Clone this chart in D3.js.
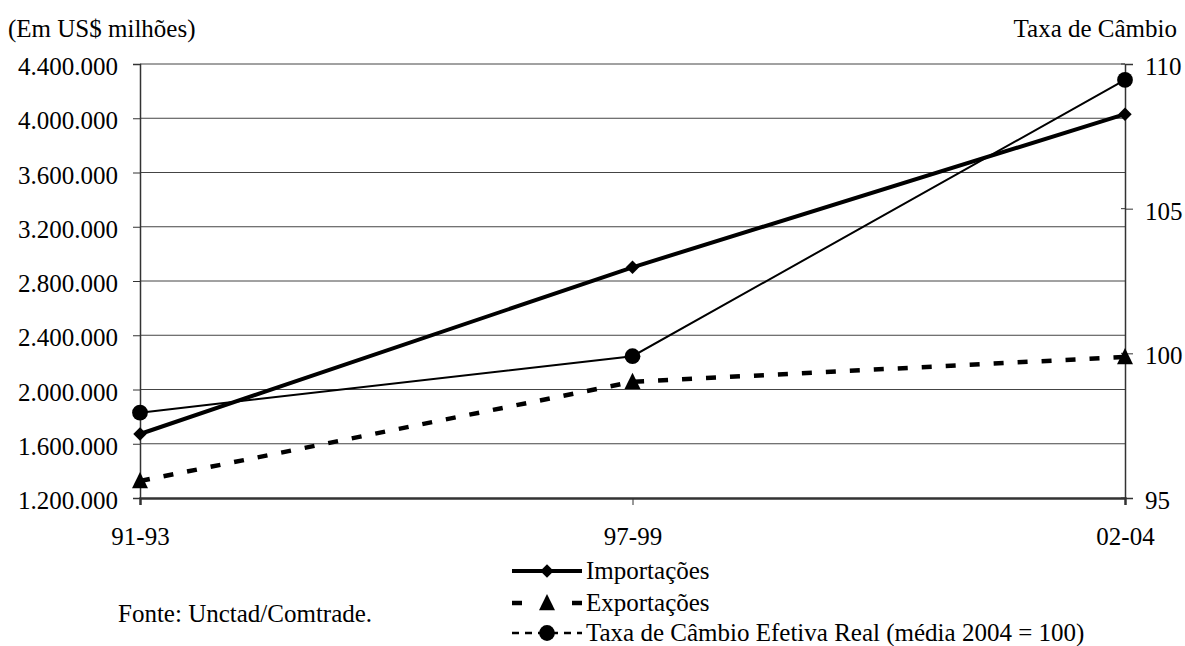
<!DOCTYPE html>
<html><head><meta charset="utf-8">
<script src="https://cdn.jsdelivr.net/npm/d3@7"></script>
<style>body{margin:0;background:#fff}svg{display:block}text{font-family:"Liberation Serif","Times New Roman",serif;fill:#000}</style>
</head><body><svg id="c" width="1185" height="646"></svg>
<script>
const categories = ["91-93", "97-99", "02-04"];
const importacoes = [1672000, 2901000, 4030000];
const exportacoes = [1325000, 2057000, 2240000];
const taxaCambio = [97.95, 99.9, 109.45];
const leftTicks = [1200000, 1600000, 2000000, 2400000, 2800000, 3200000, 3600000, 4000000, 4400000];
const rightTicks = [95, 100, 105, 110];
const legendLabels = ["Importações", "Exportações", "Taxa de Câmbio Efetiva Real (média 2004 = 100)"];

(function () {
const svg = d3.select("#c");
const FS = 25;
const pLeft = 140, pRight = 1125, pTop = 64, pBottom = 498;
const x = d3.scalePoint().domain(categories).range([pLeft, pRight]);
const yL = d3.scaleLinear().domain([1200000, 4400000]).range([pBottom, pTop]);
const yR = d3.scaleLinear().domain([95, 110]).range([pBottom, pTop]);
const fmt = v => d3.format(",")(v).replace(/,/g, ".");

svg.append("g").selectAll("line").data(leftTicks.slice(1)).join("line")
  .attr("x1", pLeft).attr("x2", pRight).attr("y1", d => yL(d)).attr("y2", d => yL(d))
  .attr("stroke", "#444").attr("stroke-width", 1);

const gL = svg.append("g").attr("transform", `translate(${pLeft},0)`)
  .call(d3.axisLeft(yL).tickValues(leftTicks).tickFormat(fmt).tickSize(7).tickPadding(15));
const gR = svg.append("g").attr("transform", `translate(${pRight},0)`)
  .call(d3.axisRight(yR).tickValues(rightTicks).tickSize(8).tickPadding(12));
svg.append("g").selectAll("line").data(rightTicks).join("line")
  .attr("x1", pRight - 4).attr("x2", pRight).attr("y1", d => yR(d)).attr("y2", d => yR(d)).attr("stroke", "#333");
const gB = svg.append("g").attr("transform", `translate(0,${pBottom})`)
  .call(d3.axisBottom(x).tickSize(7).tickPadding(22));
[gL, gR, gB].forEach(g => {
  g.select(".domain").attr("stroke", "#333").attr("stroke-width", 1.5);
  g.selectAll(".tick line").attr("stroke", "#333");
  g.selectAll("text").style("font-family", '"Liberation Serif",serif').style("font-size", FS + "px").attr("fill", "#000");
});
gL.selectAll("text").attr("dy", "0.42em");
gR.selectAll("text").attr("dy", "0.42em");
gB.select(".domain").attr("stroke-width", 2.5);

svg.append("text").attr("x", 8).attr("y", 37).style("font-size", FS + "px").text("(Em US$ milhões)");
svg.append("text").attr("x", 1177).attr("y", 37).attr("text-anchor", "end").style("font-size", FS + "px").text("Taxa de Câmbio");

const lineL = d3.line().x((d, i) => x(categories[i])).y(d => yL(d));
const lineR = d3.line().x((d, i) => x(categories[i])).y(d => yR(d));
svg.append("path").datum(taxaCambio).attr("d", lineR).attr("fill", "none").attr("stroke", "#000").attr("stroke-width", 2);
svg.append("path").datum(importacoes).attr("d", lineL).attr("fill", "none").attr("stroke", "#000").attr("stroke-width", 4);
svg.append("path").datum(exportacoes).attr("d", lineL).attr("fill", "none").attr("stroke", "#000").attr("stroke-width", 4.5).attr("stroke-dasharray", "10,14");

const triType = { draw(ctx, size) { const w = 8, h = 9; ctx.moveTo(0, -h); ctx.lineTo(w, h * 0.8); ctx.lineTo(-w, h * 0.8); ctx.closePath(); } };
const diamond = d3.symbol().type(d3.symbolDiamond2).size(115);
const tri = d3.symbol().type(triType);
const circ = d3.symbol().type(d3.symbolCircle).size(195);

svg.append("g").selectAll("path").data(importacoes).join("path")
  .attr("d", diamond).attr("transform", (d, i) => `translate(${x(categories[i])},${yL(d)})`);
svg.append("g").selectAll("path").data(exportacoes).join("path")
  .attr("d", tri).attr("transform", (d, i) => `translate(${x(categories[i])},${yL(d)})`);
svg.append("g").selectAll("path").data(taxaCambio).join("path")
  .attr("d", circ).attr("transform", (d, i) => `translate(${x(categories[i])},${yR(d)})`);

const lx = 512, lw = 70, ly = [571, 603, 633];
const leg = svg.append("g");
leg.append("line").attr("x1", lx).attr("x2", lx + lw).attr("y1", ly[0]).attr("y2", ly[0]).attr("stroke", "#000").attr("stroke-width", 4);
leg.append("path").attr("d", diamond).attr("transform", `translate(${lx + lw / 2},${ly[0]})`);
leg.append("line").attr("x1", lx).attr("x2", lx + 10).attr("y1", ly[1]).attr("y2", ly[1]).attr("stroke", "#000").attr("stroke-width", 4.5);
leg.append("line").attr("x1", lx + lw - 10).attr("x2", lx + lw).attr("y1", ly[1]).attr("y2", ly[1]).attr("stroke", "#000").attr("stroke-width", 4.5);
leg.append("path").attr("d", tri).attr("transform", `translate(${lx + lw / 2},${ly[1]})`);
leg.append("line").attr("x1", lx).attr("x2", lx + lw).attr("y1", ly[2]).attr("y2", ly[2]).attr("stroke", "#000").attr("stroke-width", 2.5).attr("stroke-dasharray", "7,6");
leg.append("path").attr("d", circ).attr("transform", `translate(${lx + lw / 2},${ly[2]})`);
legendLabels.forEach((t, i) => {
  leg.append("text").attr("x", lx + lw + 4).attr("y", ly[i]).attr("dy", "0.33em").style("font-size", FS + "px").text(t);
});

svg.append("text").attr("x", 118).attr("y", 622).style("font-size", FS + "px").text("Fonte: Unctad/Comtrade.");
})();
</script></body></html>
